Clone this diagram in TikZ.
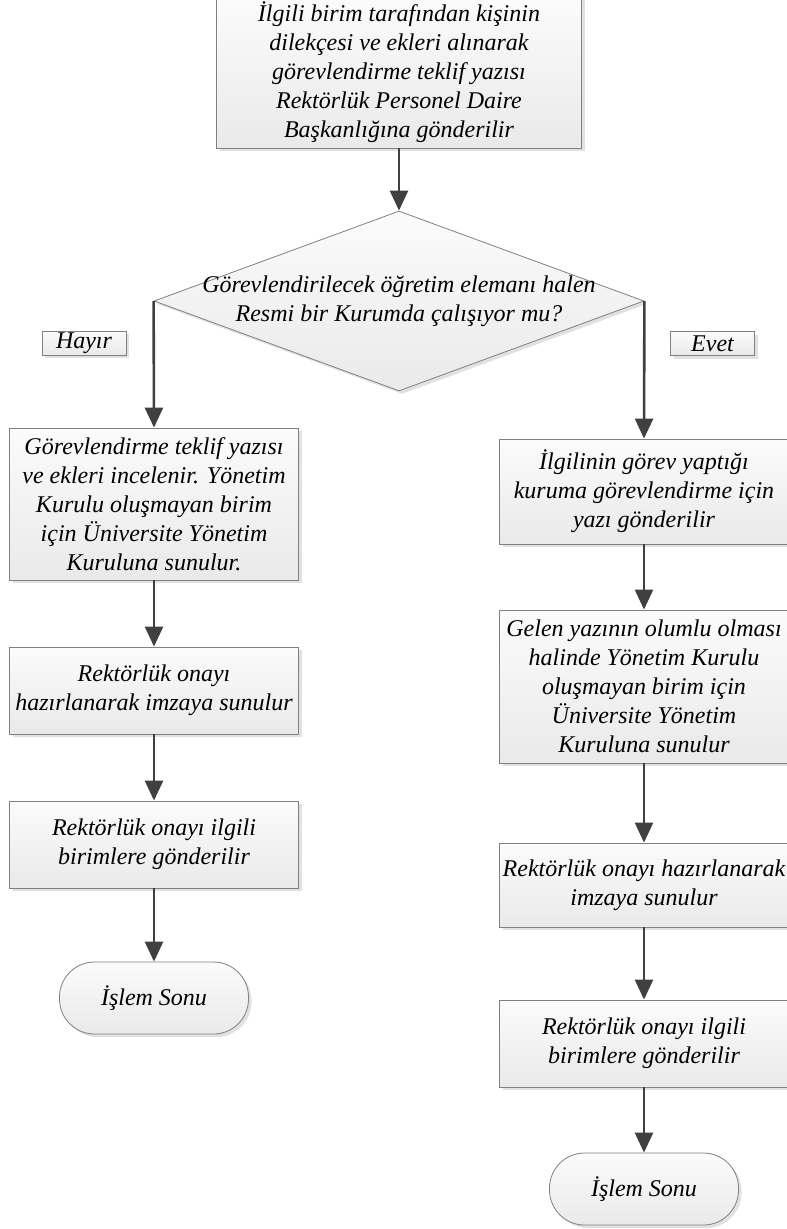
\documentclass[tikz,border=0pt]{standalone}
\usepackage{fontspec}
\setmainfont{Liberation Serif}
\usetikzlibrary{arrows.meta,shapes.geometric,shadows}

\tikzset{
  shade/.style={draw=gray, line width=0.8pt, top color=gray!3, bottom color=gray!17,
    drop shadow={shadow xshift=3pt, shadow yshift=-3pt, fill=gray!30, opacity=0.8}},
  box/.style={shade, align=center, inner sep=0pt, minimum width=289pt,
    font=\fontsize{24}{29}\selectfont\itshape},
  endbox/.style={box, rounded corners=35pt, minimum width=189pt, minimum height=72pt},
  tag/.style={box, minimum width=84pt, minimum height=24pt},
  decide/.style={diamond, shade, inner sep=0pt, minimum width=490pt, minimum height=180pt},
  arr/.style={draw=black!75, line width=2.6pt, -{Triangle[width=18pt,length=20pt]}}
}

\begin{document}
\begin{tikzpicture}[x=1pt,y=-1pt]
  \useasboundingbox (0,0) rectangle (787,1229);
  % start and question
  \node[box, minimum width=365pt, minimum height=151pt] (start) at (399,72.5)
    {İlgili birim tarafından kişinin\\ dilekçesi ve ekleri alınarak\\ görevlendirme teklif yazısı\\ Rektörlük Personel Daire\\ Başkanlığına gönderilir};
  \node[decide] (q) at (399,301) {};
  \node[font=\fontsize{24}{29}\selectfont\itshape, align=center] (qtext) at (q.center)
    {Görevlendirilecek öğretim elemanı halen\\ Resmi bir Kurumda çalışıyor mu?};
  \node[tag] (hayir) at (84,343) {Hayır};
  \node[tag] (evet) at (712.5,343.5) {Evet};
  % left column (Hayır)
  \node[box, minimum height=152pt] (no1) at (154,504)
    {Görevlendirme teklif yazısı\\ ve ekleri incelenir. Yönetim\\ Kurulu oluşmayan birim\\ için Üniversite Yönetim\\ Kuruluna sunulur.};
  \node[box, minimum height=87pt] (no2) at (154,690.5)
    {Rektörlük onayı\\ hazırlanarak imzaya sunulur};
  \node[box, minimum height=87pt] (no3) at (154,844.5)
    {Rektörlük onayı ilgili\\ birimlere gönderilir};
  \node[endbox] (noend) at (154,998) {İşlem Sonu};
  % right column (Evet)
  \node[box, minimum height=105pt] (yes1) at (644,491.5)
    {İlgilinin görev yaptığı\\ kuruma görevlendirme için\\ yazı gönderilir};
  \node[box, minimum height=153pt] (yes2) at (644,686.5)
    {Gelen yazının olumlu olması\\ halinde Yönetim Kurulu\\ oluşmayan birim için\\ Üniversite Yönetim\\ Kuruluna sunulur};
  \node[box, minimum height=84pt] (yes3) at (644,885)
    {Rektörlük onayı hazırlanarak\\ imzaya sunulur};
  \node[box, minimum height=87pt] (yes4) at (644,1043.5)
    {Rektörlük onayı ilgili\\ birimlere gönderilir};
  \node[endbox] (yesend) at (644,1189) {İşlem Sonu};
  % arrows
  \draw[arr] (start) -- (q);
  \draw[arr] (q.west) -- (no1.north);
  \draw[arr] (q.east) -- (yes1.north);
  \draw[arr] (no1) -- (no2);
  \draw[arr] (no2) -- (no3);
  \draw[arr] (no3) -- (noend);
  \draw[arr] (yes1) -- (yes2);
  \draw[arr] (yes2) -- (yes3);
  \draw[arr] (yes3) -- (yes4);
  \draw[arr] (yes4) -- (yesend);
\end{tikzpicture}
\end{document}
